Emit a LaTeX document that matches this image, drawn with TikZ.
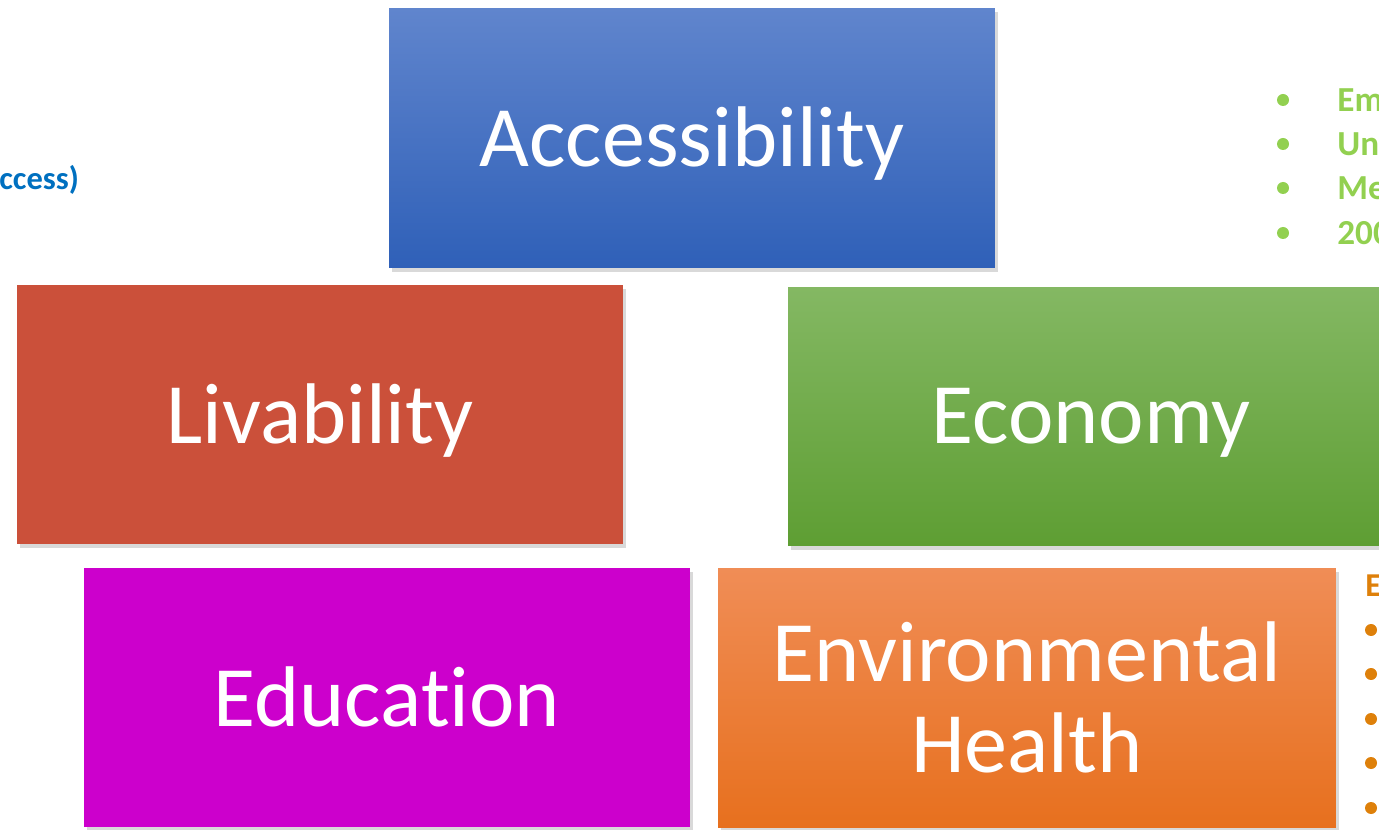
\documentclass[tikz,border=0pt]{standalone}
\usepackage{fontspec}
\setmainfont{Carlito}[Ligatures=NoCommon]
\usetikzlibrary{shadows}
\definecolor{accTop}{RGB}{96,133,205}
\definecolor{accBot}{RGB}{47,96,184}
\definecolor{livRed}{RGB}{203,80,58}
\definecolor{ecoTop}{RGB}{132,184,99}
\definecolor{ecoBot}{RGB}{94,158,51}
\definecolor{eduMag}{RGB}{204,0,204}
\definecolor{envTop}{RGB}{240,141,86}
\definecolor{envBot}{RGB}{231,112,30}
\definecolor{noteBlue}{RGB}{0,112,192}
\definecolor{noteGreen}{RGB}{146,208,80}
\definecolor{noteOrange}{RGB}{222,128,10}
\begin{document}
\begin{tikzpicture}[
        x=0.02cm,
        y=-0.02cm,
        font=\fontsize{49}{52}\selectfont
    ]
    \tikzset{
        pillar/.style = {rectangle, draw=none, text=white, align=center,
            minimum width=12.12cm, minimum height=5.2cm, text depth=0.25ex,
            drop shadow={opacity=0.3, shadow xshift=0.6mm, shadow yshift=-0.8mm}},
        notetext/.style = {anchor=base west, inner sep=0pt, font=\fontsize{20}{24}\selectfont\bfseries},
        greendot/.style = {circle, fill=noteGreen, inner sep=0pt, minimum size=0.24cm},
        orangedot/.style = {circle, fill=noteOrange, inner sep=0pt, minimum size=0.24cm},
    }
    \clip (0,0) rectangle (1379,830);
    \node[pillar, top color=accTop, bottom color=accBot] at (692,138) (acc) {Accessibility};
    \node[pillar, fill=livRed, minimum height=5.18cm] at (320,414.5) (liv) {Livability};
    \node[pillar, top color=ecoTop, bottom color=ecoBot, minimum height=5.18cm] at (1091,416.5) (eco) {Economy};
    \node[pillar, fill=eduMag, minimum height=5.18cm] at (387,697.5) (edu) {Education};
    \node[pillar, top color=envTop, bottom color=envBot, minimum width=12.36cm] at (1027,698) (env) {Environmental\\Health};
    %
    \node[notetext, text=noteBlue, font=\fontsize{18.5}{22}\selectfont\bfseries] at (-1,190) (accnote) {ccess)};
    %
    \node[greendot] at (1283,100) (g1) {};
    \node[greendot] at (1283,144) (g2) {};
    \node[greendot] at (1283,188) (g3) {};
    \node[greendot] at (1283,233) (g4) {};
    \node[notetext, text=noteGreen] at (1337,112) (ecoa) {Em};
    \node[notetext, text=noteGreen] at (1337,156) (ecob) {Un};
    \node[notetext, text=noteGreen] at (1337,200) (ecoc) {Me};
    \node[notetext, text=noteGreen] at (1337,245) (ecod) {200};
    %
    \node[notetext, text=noteOrange, font=\fontsize{19}{22}\selectfont\bfseries] at (1365,597) (envnote) {E};
    \node[orangedot] at (1371,630) (o1) {};
    \node[orangedot] at (1371,674) (o2) {};
    \node[orangedot] at (1371,719) (o3) {};
    \node[orangedot] at (1371,763) (o4) {};
    \node[orangedot] at (1371,808) (o5) {};
\end{tikzpicture}
\end{document}
